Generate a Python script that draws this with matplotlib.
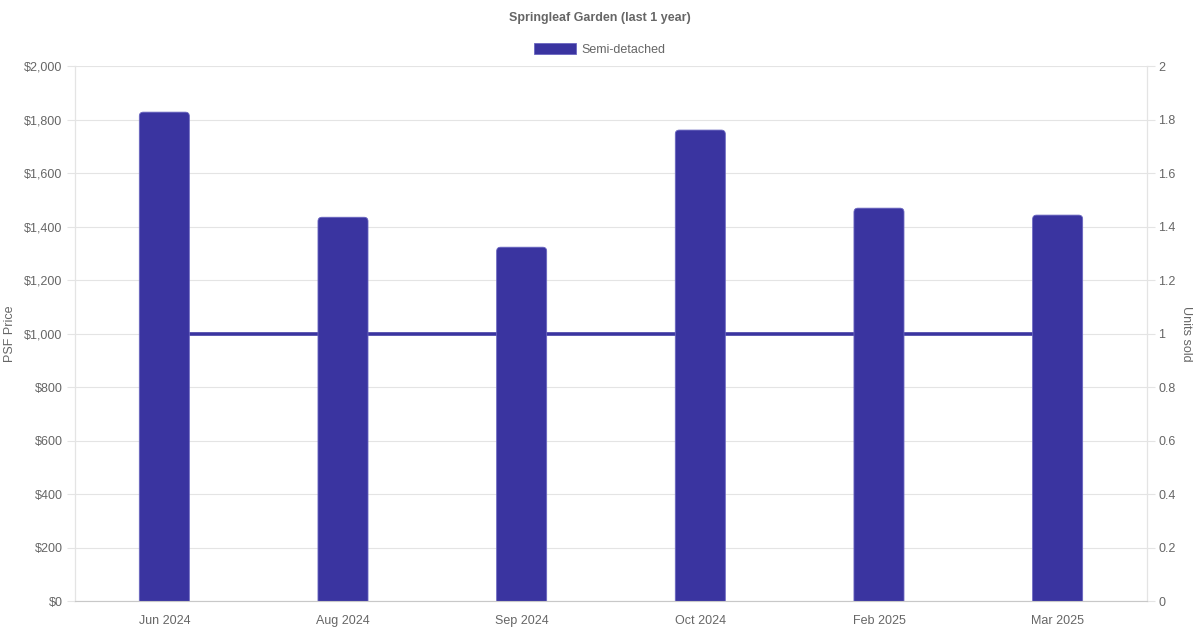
import matplotlib.pyplot as plt
import numpy as np
from matplotlib.patches import FancyBboxPatch, Rectangle

plt.rcParams['font.family'] = ['Liberation Sans', 'DejaVu Sans']

# Datos
meses = ['Jun 2024', 'Aug 2024', 'Sep 2024', 'Oct 2024', 'Feb 2025', 'Mar 2025']
psf_price = [1828, 1435, 1323, 1761, 1469, 1443]
unidades = [1, 1, 1, 1, 1, 1]

color_barra = '#3a34a0'
color_borde = '#6a66c0'
color_texto = '#666666'
color_grid = '#e4e4e4'

fig = plt.figure(figsize=(12, 6.3), dpi=100)
ax = fig.add_axes([0.0625, 0.046, 0.8933, 0.849])
ax2 = ax.twinx()

x = np.arange(len(meses))

# Linea de unidades (eje derecho) por debajo de las barras
ax2.plot(x, unidades, color=color_barra, lw=2.6, solid_capstyle='butt')
ax2.set_ylim(0, 2)
ax2.set_yticks(np.arange(0, 2.01, 0.2))
ax2.set_yticklabels(['0', '0.2', '0.4', '0.6', '0.8', '1', '1.2', '1.4', '1.6', '1.8', '2'])
ax2.grid(axis='y', color=color_grid, lw=0.8)
ax2.set_axisbelow(True)
ax2.set_ylabel('Units sold', color=color_texto, fontsize=9, rotation=270, labelpad=12)

# Barras (eje izquierdo)
ax.set_zorder(ax2.get_zorder() + 1)
ax.patch.set_visible(False)
ax.set_xlim(-0.5, len(meses) - 0.5)
ax.set_ylim(0, 2000)
bars = ax.bar(x, psf_price, width=0.28, color=color_barra)

# Esquinas superiores redondeadas
x0, y0 = ax.transData.transform((0, 0))
x1, y1 = ax.transData.transform((1, 1))
px_x = x1 - x0
px_y = y1 - y0
radio = 4 / px_x
aspecto = px_x / px_y
for b in bars:
    b.set_visible(False)
    extra = radio * aspecto
    p = FancyBboxPatch((b.get_x(), -extra), b.get_width(), b.get_height() + extra,
                       boxstyle=f'round,pad=0,rounding_size={radio}', mutation_aspect=aspecto,
                       facecolor=color_barra, edgecolor=color_borde, linewidth=0.6, clip_on=True)
    ax.add_patch(p)

ax.set_yticks(np.arange(0, 2001, 200))
ax.set_yticklabels([f'${v:,}' for v in range(0, 2001, 200)])
ax.set_xticks(x)
ax.set_xticklabels(meses)
ax.set_ylabel('PSF Price', color=color_texto, fontsize=9, labelpad=6)

for a in (ax, ax2):
    for s in a.spines.values():
        s.set_color(color_grid)
        s.set_linewidth(0.8)
    a.spines['top'].set_visible(False)
    a.tick_params(axis='y', colors=color_grid, labelcolor=color_texto, labelsize=9, length=6, width=0.8, pad=3)
    a.tick_params(axis='x', length=0, labelcolor=color_texto, labelsize=9, pad=10)
ax2.tick_params(axis='y', pad=2)
ax.spines['bottom'].set_color('#c8c8c8')

fig.text(0.5, 0.972, 'Springleaf Garden (last 1 year)', ha='center', va='center',
         fontsize=9, fontweight='bold', color=color_texto)

handle = Rectangle((0, 0), 1, 1, facecolor=color_barra, edgecolor=color_borde, linewidth=0.6)
fig.legend(handles=[handle], labels=['Semi-detached'], loc='center', bbox_to_anchor=(0.5, 0.921),
           frameon=False, fontsize=9, handlelength=3.3, handleheight=0.95, handletextpad=0.5,
           labelcolor=color_texto)

fig.savefig('out.png', dpi=100)
